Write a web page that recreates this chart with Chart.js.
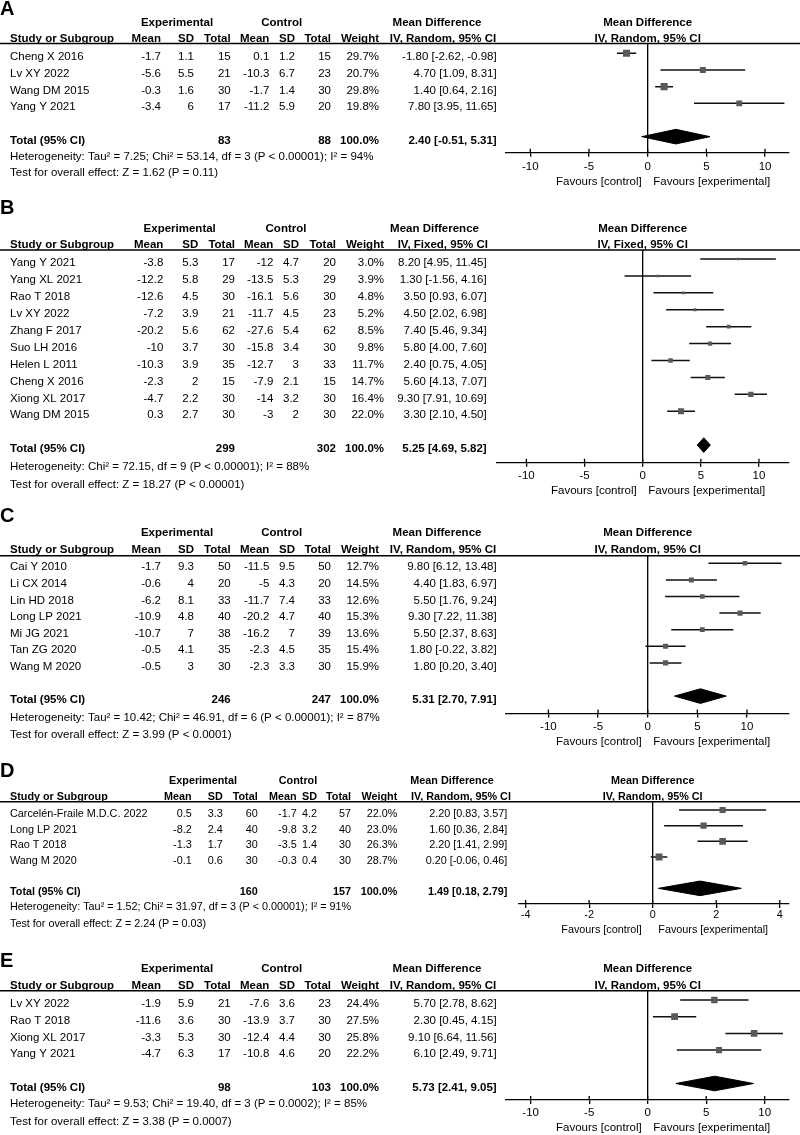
<!DOCTYPE html>
<html>
<head>
<meta charset="utf-8">
<script src="https://cdn.jsdelivr.net/npm/chart.js@4.4.0/dist/chart.umd.min.js"></script>
<style>
  body { margin: 0; background: #fff; }
  #page { position: relative; width: 800px; height: 1135px; overflow: hidden; }
  canvas { position: absolute; left: 0; }
</style>
</head>
<body>
<div id="page">
  <canvas id="chartA"></canvas>
  <canvas id="chartB"></canvas>
  <canvas id="chartC"></canvas>
  <canvas id="chartD"></canvas>
  <canvas id="chartE"></canvas>
</div>
<script>
// ---- Panel A ----
const studiesA = ['Cheng X 2016', 'Lv XY 2022', 'Wang DM 2015', 'Yang Y 2021'];
const expMeanA = [-1.7, -5.6, -0.3, -3.4];
const expSdA = [1.1, 5.5, 1.6, 6];
const expNA = [15, 21, 30, 17];
const ctlMeanA = [0.1, -10.3, -1.7, -11.2];
const ctlSdA = [1.2, 6.7, 1.4, 5.9];
const ctlNA = [15, 23, 30, 20];
const weightA = [29.7, 20.7, 29.8, 19.8];
const mdA = [-1.80, 4.70, 1.40, 7.80];
const lowA = [-2.62, 1.09, 0.64, 3.95];
const highA = [-0.98, 8.31, 2.16, 11.65];
const totalNA = [83, 88];
const pooledA = [2.40, -0.51, 5.31];
const hetA = 'Heterogeneity: Tau² = 7.25; Chi² = 53.14, df = 3 (P < 0.00001); I² = 94%';
const testA = 'Test for overall effect: Z = 1.62 (P = 0.11)';

// ---- Panel B ----
const studiesB = ['Yang Y 2021', 'Yang XL 2021', 'Rao T 2018', 'Lv XY 2022', 'Zhang F 2017',
  'Suo LH 2016', 'Helen L 2011', 'Cheng X 2016', 'Xiong XL 2017', 'Wang DM 2015'];
const expMeanB = [-3.8, -12.2, -12.6, -7.2, -20.2, -10, -10.3, -2.3, -4.7, 0.3];
const expSdB = [5.3, 5.8, 4.5, 3.9, 5.6, 3.7, 3.9, 2, 2.2, 2.7];
const expNB = [17, 29, 30, 21, 62, 30, 35, 15, 30, 30];
const ctlMeanB = [-12, -13.5, -16.1, -11.7, -27.6, -15.8, -12.7, -7.9, -14, -3];
const ctlSdB = [4.7, 5.3, 5.6, 4.5, 5.4, 3.4, 3, 2.1, 3.2, 2];
const ctlNB = [20, 29, 30, 23, 62, 30, 33, 15, 30, 30];
const weightB = [3.0, 3.9, 4.8, 5.2, 8.5, 9.8, 11.7, 14.7, 16.4, 22.0];
const mdB = [8.20, 1.30, 3.50, 4.50, 7.40, 5.80, 2.40, 5.60, 9.30, 3.30];
const lowB = [4.95, -1.56, 0.93, 2.02, 5.46, 4.00, 0.75, 4.13, 7.91, 2.10];
const highB = [11.45, 4.16, 6.07, 6.98, 9.34, 7.60, 4.05, 7.07, 10.69, 4.50];
const totalNB = [299, 302];
const pooledB = [5.25, 4.69, 5.82];
const hetB = 'Heterogeneity: Chi² = 72.15, df = 9 (P < 0.00001); I² = 88%';
const testB = 'Test for overall effect: Z = 18.27 (P < 0.00001)';

// ---- Panel C ----
const studiesC = ['Cai Y 2010', 'Li CX 2014', 'Lin HD 2018', 'Long LP 2021', 'Mi JG 2021', 'Tan ZG 2020', 'Wang M 2020'];
const expMeanC = [-1.7, -0.6, -6.2, -10.9, -10.7, -0.5, -0.5];
const expSdC = [9.3, 4, 8.1, 4.8, 7, 4.1, 3];
const expNC = [50, 20, 33, 40, 38, 35, 30];
const ctlMeanC = [-11.5, -5, -11.7, -20.2, -16.2, -2.3, -2.3];
const ctlSdC = [9.5, 4.3, 7.4, 4.7, 7, 4.5, 3.3];
const ctlNC = [50, 20, 33, 40, 39, 35, 30];
const weightC = [12.7, 14.5, 12.6, 15.3, 13.6, 15.4, 15.9];
const mdC = [9.80, 4.40, 5.50, 9.30, 5.50, 1.80, 1.80];
const lowC = [6.12, 1.83, 1.76, 7.22, 2.37, -0.22, 0.20];
const highC = [13.48, 6.97, 9.24, 11.38, 8.63, 3.82, 3.40];
const totalNC = [246, 247];
const pooledC = [5.31, 2.70, 7.91];
const hetC = 'Heterogeneity: Tau² = 10.42; Chi² = 46.91, df = 6 (P < 0.00001); I² = 87%';
const testC = 'Test for overall effect: Z = 3.99 (P < 0.0001)';

// ---- Panel D ----
const studiesD = ['Carcelén-Fraile M.D.C. 2022', 'Long LP 2021', 'Rao T 2018', 'Wang M 2020'];
const expMeanD = [0.5, -8.2, -1.3, -0.1];
const expSdD = [3.3, 2.4, 1.7, 0.6];
const expND = [60, 40, 30, 30];
const ctlMeanD = [-1.7, -9.8, -3.5, -0.3];
const ctlSdD = [4.2, 3.2, 1.4, 0.4];
const ctlND = [57, 40, 30, 30];
const weightD = [22.0, 23.0, 26.3, 28.7];
const mdD = [2.20, 1.60, 2.20, 0.20];
const lowD = [0.83, 0.36, 1.41, -0.06];
const highD = [3.57, 2.84, 2.99, 0.46];
const totalND = [160, 157];
const pooledD = [1.49, 0.18, 2.79];
const hetD = 'Heterogeneity: Tau² = 1.52; Chi² = 31.97, df = 3 (P < 0.00001); I² = 91%';
const testD = 'Test for overall effect: Z = 2.24 (P = 0.03)';

// ---- Panel E ----
const studiesE = ['Lv XY 2022', 'Rao T 2018', 'Xiong XL 2017', 'Yang Y 2021'];
const expMeanE = [-1.9, -11.6, -3.3, -4.7];
const expSdE = [5.9, 3.6, 5.3, 6.3];
const expNE = [21, 30, 30, 17];
const ctlMeanE = [-7.6, -13.9, -12.4, -10.8];
const ctlSdE = [3.6, 3.7, 4.4, 4.6];
const ctlNE = [23, 30, 30, 20];
const weightE = [24.4, 27.5, 25.8, 22.2];
const mdE = [5.70, 2.30, 9.10, 6.10];
const lowE = [2.78, 0.45, 6.64, 2.49];
const highE = [8.62, 4.15, 11.56, 9.71];
const totalNE = [98, 103];
const pooledE = [5.73, 2.41, 9.05];
const hetE = 'Heterogeneity: Tau² = 9.53; Chi² = 19.40, df = 3 (P = 0.0002); I² = 85%';
const testE = 'Test for overall effect: Z = 3.38 (P = 0.0007)';

const ticksWide = [-10, -5, 0, 5, 10];
const ticksNarrow = [-4, -2, 0, 2, 4];

const FONT = '"Liberation Sans", Arial, sans-serif';
const colsStd = [161, 194, 230.7, 269.3, 295, 331, 379, 496.7];

function ci(m, l, h) {
  return m.toFixed(2) + ' [' + l.toFixed(2) + ', ' + h.toFixed(2) + ']';
}

function tablePlugin(p) {
  return {
    id: 'forestTable',
    afterDraw(chart) {
      const ctx = chart.ctx;
      const xs = chart.scales.x;
      const ys = chart.scales.y;
      const zero = xs.getPixelForValue(0);
      const T = (y) => y - p.top;
      const rowY = (i) => ys.getPixelForValue(i) + 4;
      const fs = p.fs;
      const txt = (s, x, y, align, bold) => {
        ctx.font = (bold ? 'bold ' : '') + fs + 'px ' + FONT;
        ctx.textAlign = align;
        ctx.fillText(s, x, y);
      };
      ctx.save();
      ctx.fillStyle = '#000';
      ctx.textBaseline = 'middle';

      // panel letter
      ctx.font = 'bold 20px ' + FONT;
      ctx.textAlign = 'left';
      ctx.fillText(p.letter, 0, T(p.letterY));

      // group headers
      txt('Experimental', p.expC, T(p.groupY), 'center', true);
      txt('Control', p.ctlC, T(p.groupY), 'center', true);
      txt('Mean Difference', p.mdC, T(p.groupY), 'center', true);
      txt('Mean Difference', zero, T(p.groupY), 'center', true);

      // column headers
      const c = p.cols;
      txt('Study or Subgroup', 10, T(p.colY), 'left', true);
      ['Mean', 'SD', 'Total', 'Mean', 'SD', 'Total', 'Weight'].forEach((h, k) => {
        txt(h, c[k], T(p.colY), 'right', true);
      });
      txt(p.method, p.ivC, T(p.colY), 'center', true);
      txt(p.method, zero, T(p.colY), 'center', true);

      // header rule
      ctx.strokeStyle = '#000';
      ctx.lineWidth = 1.5;
      ctx.beginPath();
      ctx.moveTo(0, T(p.line));
      ctx.lineTo(800, T(p.line));
      ctx.stroke();

      // study rows
      p.studies.forEach((s, i) => {
        const y = rowY(i);
        txt(s, 10, y, 'left', false);
        txt(String(p.expMean[i]), c[0], y, 'right', false);
        txt(String(p.expSd[i]), c[1], y, 'right', false);
        txt(String(p.expN[i]), c[2], y, 'right', false);
        txt(String(p.ctlMean[i]), c[3], y, 'right', false);
        txt(String(p.ctlSd[i]), c[4], y, 'right', false);
        txt(String(p.ctlN[i]), c[5], y, 'right', false);
        txt(p.weight[i].toFixed(1) + '%', c[6], y, 'right', false);
        txt(ci(p.md[i], p.low[i], p.high[i]), c[7], y, 'right', false);
      });

      // total row
      const ty = rowY(p.studies.length + 1);
      txt('Total (95% CI)', 10, ty, 'left', true);
      txt(String(p.totalN[0]), c[2], ty, 'right', true);
      txt(String(p.totalN[1]), c[5], ty, 'right', true);
      txt('100.0%', c[6], ty, 'right', true);
      txt(ci(p.pooled[0], p.pooled[1], p.pooled[2]), c[7], ty, 'right', true);

      // footer
      txt(p.het, 10, T(p.hetY), 'left', false);
      txt(p.test, 10, T(p.testY), 'left', false);

      // tick marks above the axis line
      const ay = xs.top;
      ctx.lineWidth = 1.3;
      ctx.beginPath();
      p.ticks.forEach(v => {
        const px = xs.getPixelForValue(v);
        ctx.moveTo(px, ay - 4);
        ctx.lineTo(px, ay);
      });
      ctx.stroke();

      // favours labels
      txt('Favours [control]', zero - p.ctlGap, T(p.favY), 'right', false);
      txt('Favours [experimental]', zero + 5.6, T(p.favY), 'left', false);
      ctx.restore();
    }
  };
}

function drawPanel(p) {
  const n = p.studies.length;
  const yMin = (p.line - p.row0) / p.step;
  const yMax = (p.axis - p.row0) / p.step;
  const tr = n + 1;
  const dh = 7.3 / p.step;
  const axisH = 22;

  const canvas = document.getElementById(p.id);
  canvas.width = 800;
  canvas.height = p.height;
  canvas.style.top = p.top + 'px';

  const datasets = [];
  // study squares, area by weight
  datasets.push({
    data: p.md.map((v, i) => ({ x: v, y: i })),
    pointStyle: 'rect',
    pointRadius: p.weight.map(w => 1.3 * Math.sqrt(w) / Math.SQRT2),
    backgroundColor: '#595959',
    borderWidth: 0,
    showLine: false
  });
  // confidence intervals
  p.md.forEach((v, i) => {
    datasets.push({
      data: [{ x: p.low[i], y: i }, { x: p.high[i], y: i }],
      showLine: true,
      borderColor: '#111',
      borderWidth: 1.5,
      pointRadius: 0
    });
  });
  // pooled diamond
  datasets.push({
    data: [
      { x: p.pooled[1], y: tr }, { x: p.pooled[0], y: tr - dh },
      { x: p.pooled[2], y: tr }, { x: p.pooled[0], y: tr + dh },
      { x: p.pooled[1], y: tr }
    ],
    showLine: true,
    fill: 'shape',
    backgroundColor: '#000',
    borderColor: '#000',
    borderWidth: 1,
    pointRadius: 0
  });
  // line of no effect
  datasets.push({
    data: [{ x: 0, y: yMin }, { x: 0, y: yMax }],
    showLine: true,
    borderColor: '#000',
    borderWidth: 1.3,
    pointRadius: 0
  });

  new Chart(canvas, {
    type: 'scatter',
    data: { datasets: datasets },
    options: {
      responsive: false,
      animation: false,
      events: [],
      layout: {
        padding: {
          left: p.xLeft,
          right: 800 - p.xRight,
          top: p.line - p.top,
          bottom: p.height - (p.axis - p.top) - axisH
        }
      },
      plugins: { legend: { display: false }, tooltip: { enabled: false } },
      scales: {
        x: {
          type: 'linear',
          min: p.xMin,
          max: p.xMax,
          afterBuildTicks: s => { s.ticks = p.ticks.map(v => ({ value: v })); },
          afterFit: s => { s.height = axisH; },
          border: { color: '#000', width: 1.3 },
          grid: { drawOnChartArea: false, drawTicks: true, tickLength: 4, color: '#000', lineWidth: 1.3 },
          ticks: {
            color: '#000',
            font: { family: FONT, size: p.fs },
            padding: p.tickPad,
            maxRotation: 0,
            autoSkip: false
          }
        },
        y: { type: 'linear', display: false, reverse: true, min: yMin, max: yMax }
      }
    },
    plugins: [tablePlugin(p)]
  });
}

drawPanel({
  id: 'chartA', letter: 'A', top: 0, height: 195, fs: 11.5, tickPad: 3,
  studies: studiesA, expMean: expMeanA, expSd: expSdA, expN: expNA,
  ctlMean: ctlMeanA, ctlSd: ctlSdA, ctlN: ctlNA, weight: weightA,
  md: mdA, low: lowA, high: highA, totalN: totalNA, pooled: pooledA,
  het: hetA, test: testA, method: 'IV, Random, 95% CI', ticks: ticksWide,
  cols: colsStd, expC: 177, ctlC: 281.7, mdC: 437, ivC: 443,
  letterY: 9, groupY: 23.3, colY: 39.3, line: 43.5, row0: 53.3, step: 16.67,
  axis: 152.7, favY: 182, hetY: 157.3, testY: 173.3, ctlGap: 6,
  xLeft: 506, xRight: 789, xMin: -12.07, xMax: 12.04
});

drawPanel({
  id: 'chartB', letter: 'B', top: 200, height: 300, fs: 11.5, tickPad: 2,
  studies: studiesB, expMean: expMeanB, expSd: expSdB, expN: expNB,
  ctlMean: ctlMeanB, ctlSd: ctlSdB, ctlN: ctlNB, weight: weightB,
  md: mdB, low: lowB, high: highB, totalN: totalNB, pooled: pooledB,
  het: hetB, test: testB, method: 'IV, Fixed, 95% CI', ticks: ticksWide,
  cols: [163.3, 198.3, 235, 273.3, 299, 336, 384, 486.7],
  expC: 179.7, ctlC: 286, mdC: 434.5, ivC: 442.8,
  letterY: 208, groupY: 228.7, colY: 245, line: 250, row0: 259, step: 16.92,
  axis: 462.7, favY: 490.7, hetY: 466.7, testY: 485, ctlGap: 6,
  xLeft: 496.7, xRight: 788.3, xMin: -12.55, xMax: 12.52
});

drawPanel({
  id: 'chartC', letter: 'C', top: 505, height: 245, fs: 11.5, tickPad: 2.5,
  studies: studiesC, expMean: expMeanC, expSd: expSdC, expN: expNC,
  ctlMean: ctlMeanC, ctlSd: ctlSdC, ctlN: ctlNC, weight: weightC,
  md: mdC, low: lowC, high: highC, totalN: totalNC, pooled: pooledC,
  het: hetC, test: testC, method: 'IV, Random, 95% CI', ticks: ticksWide,
  cols: colsStd, expC: 177, ctlC: 281.7, mdC: 437, ivC: 443,
  letterY: 516, groupY: 532.7, colY: 550, line: 555.7, row0: 563.3, step: 16.6,
  axis: 713.5, favY: 742, hetY: 718.3, testY: 735, ctlGap: 6,
  xLeft: 506, xRight: 789, xMin: -14.27, xMax: 14.23
});

drawPanel({
  id: 'chartD', letter: 'D', top: 755, height: 185, fs: 10.8, tickPad: 1,
  studies: studiesD, expMean: expMeanD, expSd: expSdD, expN: expND,
  ctlMean: ctlMeanD, ctlSd: ctlSdD, ctlN: ctlND, weight: weightD,
  md: mdD, low: lowD, high: highD, totalN: totalND, pooled: pooledD,
  het: hetD, test: testD, method: 'IV, Random, 95% CI', ticks: ticksNarrow,
  cols: [191.7, 222.7, 257.7, 296.7, 317, 351, 397.3, 507.3],
  expC: 203, ctlC: 298, mdC: 452, ivC: 461,
  letterY: 771, groupY: 781, colY: 796.7, line: 801.7, row0: 810, step: 15.67,
  axis: 904, favY: 930, hetY: 907.3, testY: 924, ctlGap: 11,
  xLeft: 518.3, xRight: 789, xMin: -4.23, xMax: 4.29
});

drawPanel({
  id: 'chartE', letter: 'E', top: 945, height: 190, fs: 11.5, tickPad: 2,
  studies: studiesE, expMean: expMeanE, expSd: expSdE, expN: expNE,
  ctlMean: ctlMeanE, ctlSd: ctlSdE, ctlN: ctlNE, weight: weightE,
  md: mdE, low: lowE, high: highE, totalN: totalNE, pooled: pooledE,
  het: hetE, test: testE, method: 'IV, Random, 95% CI', ticks: ticksWide,
  cols: colsStd, expC: 177, ctlC: 281.7, mdC: 437, ivC: 443,
  letterY: 961, groupY: 969.3, colY: 986, line: 990.7, row0: 1000, step: 16.7,
  axis: 1100, favY: 1128.3, hetY: 1104, testY: 1121.7, ctlGap: 6,
  xLeft: 506, xRight: 789, xMin: -12.11, xMax: 12.08
});
</script>
</body>
</html>
